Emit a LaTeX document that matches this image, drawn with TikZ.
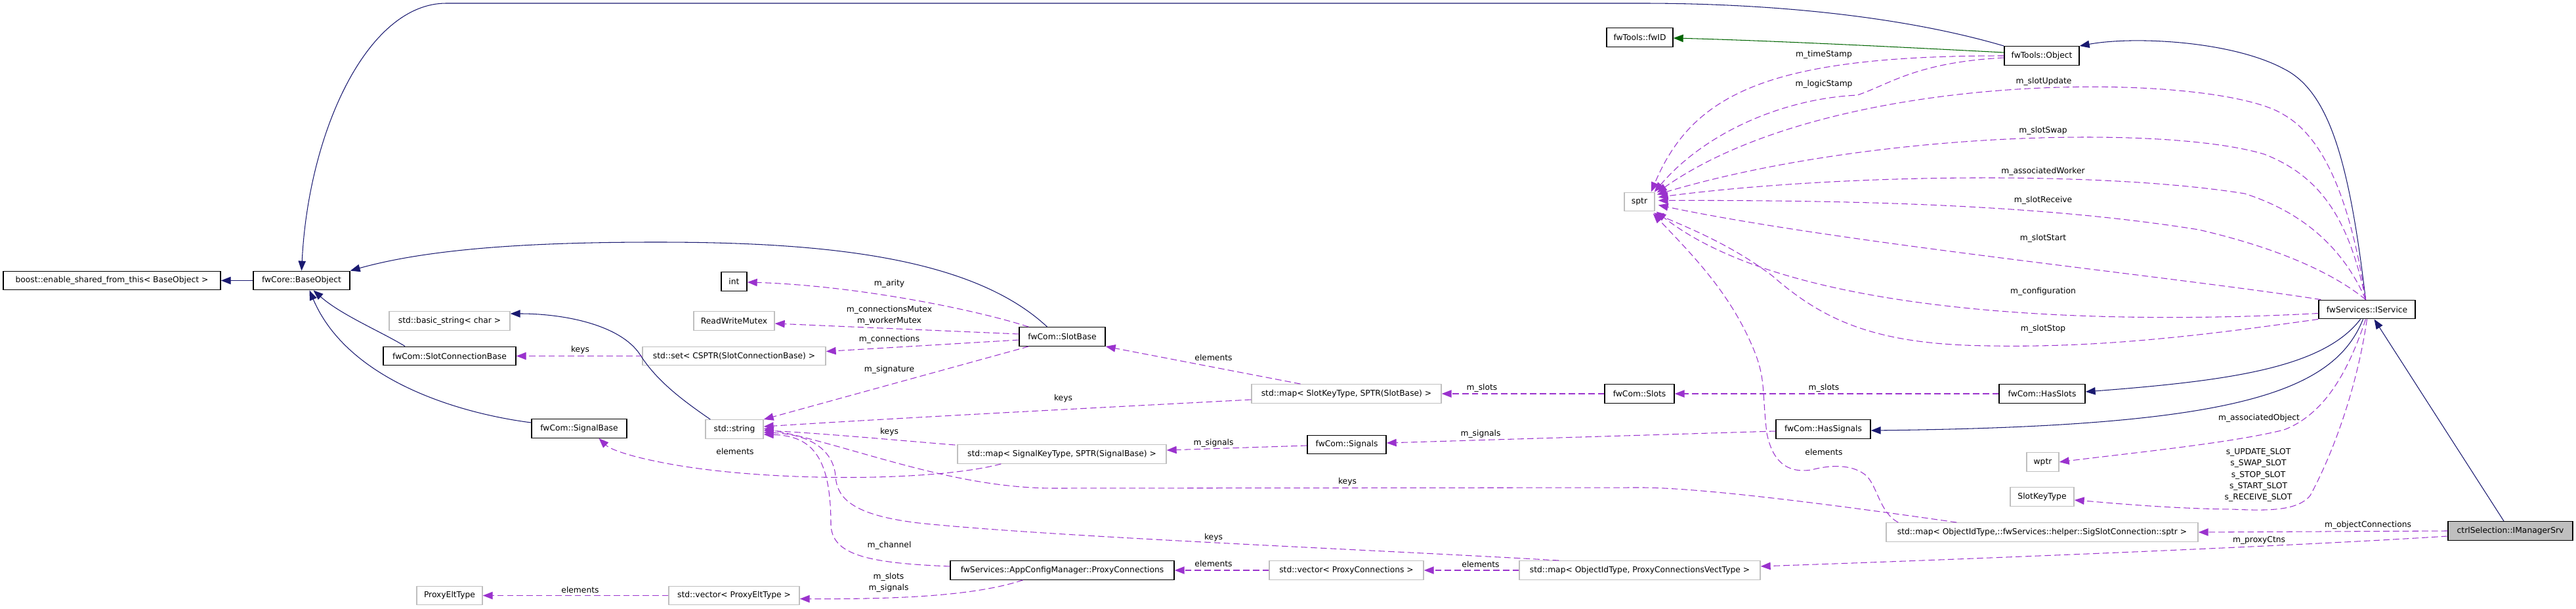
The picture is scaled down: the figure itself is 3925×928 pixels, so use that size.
\documentclass[tikz,border=0pt]{standalone}
\usepackage{fontspec}
\setmainfont{DejaVu Sans}
\usetikzlibrary{arrows.meta,calc}
\definecolor{navy}{HTML}{191970}
\definecolor{purp}{HTML}{9A32CD}
\definecolor{dgreen}{HTML}{006400}
\definecolor{lgray}{HTML}{BFBFBF}
\newcommand{\dfont}{\fontsize{7.0}{9.9}\selectfont}
\begin{document}
\begin{tikzpicture}[x=0.02cm,y=-0.02cm,
  bw/.style={minimum width=#1*0.02cm},
  box/.style={draw=black,line width=0.8pt,fill=white,minimum height=0.57cm,inner xsep=1pt,inner ysep=0pt,font=\dfont},
  ext/.style={box,draw=lgray},
  inh/.style={navy,line width=0.6pt,-{Triangle[length=8.5pt,width=6.5pt]}},
  use/.style={purp,line width=0.6pt,dash pattern=on 5.5pt off 2.9pt,-{Triangle[length=8.5pt,width=6.5pt]}},
  lbl/.style={inner sep=0pt,font=\dfont,align=center}]
\useasboundingbox (0,0) rectangle (3925,928);
% nodes
\node[box,bw=331] (boost) at (170.5,427.5) {boost::enable\_shared\_from\_this< BaseObject >};
\node[box,bw=147] (BaseObject) at (459.5,427.5) {fwCore::BaseObject};
\node[ext,bw=184] (basicstr) at (685,489) {std::basic\_string< char >};
\node[box,bw=202] (SCB) at (685,542.5) {fwCom::SlotConnectionBase};
\node[box,bw=145] (SignalBase) at (882.5,653) {fwCom::SignalBase};
\node[ext,bw=100] (PET) at (685,907.5) {ProxyEltType};
\node[box,bw=39] (int) at (1118.5,429) {int};
\node[ext,bw=123] (RWM) at (1118.5,489) {ReadWriteMutex};
\node[ext,bw=279] (set) at (1118.5,542.5) {std::set< CSPTR(SlotConnectionBase) >};
\node[ext,bw=88] (string) at (1119,654) {std::string};
\node[ext,bw=199] (vecPET) at (1118.5,907.5) {std::vector< ProxyEltType >};
\node[box,bw=131] (SlotBase) at (1618.5,513) {fwCom::SlotBase};
\node[ext,bw=318] (mapSig) at (1618,692) {std::map< SignalKeyType, SPTR(SignalBase) >};
\node[box,bw=341] (PC) at (1618.5,869) {fwServices::AppConfigManager::ProxyConnections};
\node[ext,bw=289] (mapSlot) at (2051.5,600) {std::map< SlotKeyType, SPTR(SlotBase) >};
\node[box,bw=120] (Signals) at (2052,677.5) {fwCom::Signals};
\node[ext,bw=235] (vecPC) at (2051.5,869) {std::vector< ProxyConnections >};
\node[box,bw=106] (Slots) at (2498,600) {fwCom::Slots};
\node[ext,bw=367] (mapPC) at (2498.5,869) {std::map< ObjectIdType, ProxyConnectionsVectType >};
\node[box,bw=101] (fwID) at (2498.5,57) {fwTools::fwID};
\node[ext,bw=46] (sptr) at (2498,307.5) {sptr};
\node[box,bw=144] (HasSignals) at (2778,654) {fwCom::HasSignals};
\node[ext,bw=475] (SSC) at (3111.5,811) {std::map< ObjectIdType,::fwServices::helper::SigSlotConnection::sptr >};
\node[box,bw=114] (Object) at (3111,85) {fwTools::Object};
\node[box,bw=131] (HasSlots) at (3111.5,600) {fwCom::HasSlots};
\node[ext,bw=49] (wptr) at (3112.5,704) {wptr};
\node[ext,bw=97] (SlotKeyType) at (3111.5,757) {SlotKeyType};
\node[box,bw=147] (IService) at (3606.5,471.5) {fwServices::IService};
\node[box,bw=190,fill=lgray] (IManagerSrv) at (3825,809) {ctrlSelection::IManagerSrv};
% labels
\node[lbl] (l1) at (2779,83) {m\_timeStamp};
\node[lbl] (l2) at (2779,128) {m\_logicStamp};
\node[lbl] (l3) at (3114,124) {m\_slotUpdate};
\node[lbl] (l4) at (3113,199) {m\_slotSwap};
\node[lbl] (l5) at (3113,261) {m\_associatedWorker};
\node[lbl] (l6) at (3113,305) {m\_slotReceive};
\node[lbl] (l7) at (3113,363) {m\_slotStart};
\node[lbl] (l8) at (3113,444) {m\_configuration};
\node[lbl] (l9) at (3113,501) {m\_slotStop};
\node[lbl] (l10) at (3442,637) {m\_associatedObject};
\node[lbl] (l11) at (3441,724) {s\_UPDATE\_SLOT\\s\_SWAP\_SLOT\\s\_STOP\_SLOT\\s\_START\_SLOT\\s\_RECEIVE\_SLOT};
\node[lbl] (l12) at (3608,800) {m\_objectConnections};
\node[lbl] (l13) at (3442,823) {m\_proxyCtns};
\node[lbl] (l14) at (1355,432) {m\_arity};
\node[lbl] (l15) at (1355,481) {m\_connectionsMutex\\m\_workerMutex};
\node[lbl] (l16) at (1355,517) {m\_connections};
\node[lbl] (l17) at (1355,563) {m\_signature};
\node[lbl] (l18) at (884,533) {keys};
\node[lbl] (l19) at (1849,545) {elements};
\node[lbl] (l20) at (1620,607) {keys};
\node[lbl] (l21) at (2258,591) {m\_slots};
\node[lbl] (l22) at (2779,591) {m\_slots};
\node[lbl] (l23) at (1355,658) {keys};
\node[lbl] (l24) at (1849,675) {m\_signals};
\node[lbl] (l25) at (2256,661) {m\_signals};
\node[lbl] (l26) at (1120,688) {elements};
\node[lbl] (l27) at (2779,689) {elements};
\node[lbl] (l28) at (2053,734) {keys};
\node[lbl] (l29) at (1849,819) {keys};
\node[lbl] (l30) at (1355,831) {m\_channel};
\node[lbl] (l31) at (1849,859) {elements};
\node[lbl] (l32) at (2256,860) {elements};
\node[lbl] (l33) at (1354,888) {m\_slots\\m\_signals};
\node[lbl] (l34) at (884,899) {elements};
% inheritance
\draw[inh] (BaseObject.west) -- (boost.east);
\draw[inh] (Object.north west) .. controls (2900,25) and (2700,5) .. (2500,5) -- (680,5) .. controls (560,5) and (470,200) .. (BaseObject.north);
\draw[inh] ($(SlotBase.north)+(-23,0)$) .. controls (1480,390) and (1250,369) .. (1000,369) .. controls (800,369) and (650,380) .. (BaseObject.north east);
\draw[inh] ($(SCB.north)+(-68,0)$) .. controls (580,505) and (520,480) .. ($(BaseObject.south)+(18,0)$);
\draw[inh] ($(SignalBase.west)+(0,-9)$) .. controls (700,630) and (530,580) .. ($(BaseObject.south)+(12,0)$);
\draw[inh] ($(string.north west)+(8,0)$) .. controls (1040,610) and (1000,580) .. (975,540) .. controls (945,495) and (860,478) .. ($(basicstr.east)+(0,-11)$);
\draw[inh] ($(IService.north)+(-2,0)$) .. controls (3580,250) and (3550,140) .. (3480,105) .. controls (3400,62) and (3250,55) .. (Object.north east);
\draw[inh] ($(IService.south)+(-10,0)$) .. controls (3540,560) and (3400,580) .. ($(HasSlots.east)+(0,-3)$);
\draw[inh] ($(IService.south)+(-6,0)$) .. controls (3555,600) and (3400,650) .. ($(HasSignals.east)+(0,2)$);
\draw[inh] ($(IManagerSrv.north)+(-10,0)$) -- ($(IService.south)+(11,0)$);
\draw[inh,dgreen] ($(Object.west)+(0,-5)$) .. controls (2900,72) and (2700,62) .. ($(fwID.east)+(0,1)$);
% usage
\draw[use] (Object.west) .. controls (2700,85) and (2580,140) .. ($(sptr.north east)+(-6,0)$);
\draw[use] ($(Object.west)+(0,3)$) .. controls (2920,95) and (2880,128) .. (2830,145) .. controls (2720,150) and (2600,200) .. ($(sptr.north east)+(-1,0)$);
\draw[use] ($(IService.north)+(-2,0)$) .. controls (3585,330) and (3550,215) .. (3480,175) .. controls (3380,110) and (2800,100) .. ($(sptr.north east)+(3,1)$);
\draw[use] ($(IService.north)+(-2,0)$) .. controls (3580,340) and (3540,270) .. (3450,235) .. controls (3300,190) and (2850,200) .. ($(sptr.east)+(3,-11)$);
\draw[use] ($(IService.north)+(-2,0)$) .. controls (3580,400) and (3530,330) .. (3420,295) .. controls (3200,260) and (2800,265) .. ($(sptr.east)+(5,-7)$);
\draw[use] ($(IService.north)+(-2,0)$) .. controls (3560,420) and (3480,380) .. (3350,350) .. controls (3100,310) and (2800,305) .. ($(sptr.east)+(5,-2)$);
\draw[use] ($(IService.north west)+(4,0)$) .. controls (3300,420) and (2800,370) .. ($(sptr.east)+(5,5)$);
\draw[use] ($(IService.west)+(0,6)$) .. controls (3300,490) and (2750,500) .. ($(sptr.south east)+(2,0)$);
\draw[use] (IService.south west) .. controls (3350,512) and (3200,530) .. (3030,527) .. controls (2860,525) and (2780,490) .. (2700,420) .. controls (2640,375) and (2580,350) .. ($(sptr.south east)+(-2,2)$);
\draw[use] ($(SSC.north west)+(19,0)$) .. controls (2862,780) and (2860,735) .. (2840,722) .. controls (2820,708) and (2790,708) .. (2760,716) .. controls (2720,722) and (2700,700) .. (2692,660) .. controls (2685,600) and (2690,580) .. (2675,540) .. controls (2640,450) and (2580,390) .. ($(sptr.south east)+(-3,3)$);
\draw[use] ($(IService.south)+(-2,0)$) .. controls (3580,560) and (3545,630) .. (3480,655) .. controls (3400,675) and (3250,690) .. (wptr.east);
\draw[use] (IService.south) .. controls (3590,600) and (3550,700) .. (3520,755) .. controls (3500,780) and (3450,778) .. (3400,776) .. controls (3300,775) and (3200,765) .. ($(SlotKeyType.east)+(0,5)$);
\draw[use] (IManagerSrv.west) -- (SSC.east);
\draw[use] ($(IManagerSrv.west)+(0,8)$) .. controls (3500,832) and (3000,852) .. ($(mapPC.east)+(0,-6)$);
\draw[use] ($(SlotBase.north west)+(15,0)$) .. controls (1480,470) and (1300,435) .. ($(int.east)+(0,1)$);
\draw[use] ($(SlotBase.west)+(0,-4)$) -- ($(RWM.east)+(0,4)$);
\draw[use] ($(SlotBase.west)+(0,5)$) -- ($(set.east)+(0,-7)$);
\draw[use] ($(SlotBase.south west)+(15,0)$) -- (string.north east);
\draw[use] (set.west) -- (SCB.east);
\draw[use] ($(mapSlot.north)+(-70,0)$) -- (SlotBase.south east);
\draw[use] ($(mapSlot.west)+(0,9)$) .. controls (1700,620) and (1400,635) .. ($(string.east)+(0,-4)$);
\draw[use] (Slots.west) -- (mapSlot.east);
\draw[use] (HasSlots.west) -- (Slots.east);
\draw[use] ($(mapSig.north west)+(-3,1)$) .. controls (1380,672) and (1250,660) .. ($(string.east)+(0,2)$);
\draw[use] ($(Signals.west)+(0,1.5)$) -- ($(mapSig.east)+(0,-6)$);
\draw[use] ($(HasSignals.west)+(0,3)$) -- ($(Signals.east)+(0,-2.5)$);
\draw[use] ($(mapSig.south west)+(67,0)$) .. controls (1420,735) and (1150,735) .. (1000,703) .. controls (960,695) and (930,685) .. ($(SignalBase.south)+(30,0)$);
\draw[use] ($(SSC.north west)+(108,0)$) .. controls (2800,770) and (2600,744) .. (2504,743) -- (1606,744) .. controls (1450,744) and (1300,680) .. ($(string.east)+(0,-1)$);
\draw[use] ($(mapPC.north west)+(61,0)$) .. controls (2100,838) and (1600,818) .. (1400,797) .. controls (1300,785) and (1275,760) .. (1273,725) .. controls (1270,690) and (1240,662) .. ($(string.east)+(0,5)$);
\draw[use] ($(PC.west)+(0,-6)$) .. controls (1320,858) and (1268,845) .. (1266,800) .. controls (1266,700) and (1240,664) .. ($(string.east)+(0,8)$);
\draw[use] (vecPC.west) -- (PC.east);
\draw[use] (mapPC.west) -- (vecPC.east);
\draw[use] ($(PC.south)+(-60,0)$) .. controls (1480,910) and (1350,913) .. ($(vecPET.east)+(0,5)$);
\draw[use] (vecPET.west) -- (PET.east);
\end{tikzpicture}
\end{document}
